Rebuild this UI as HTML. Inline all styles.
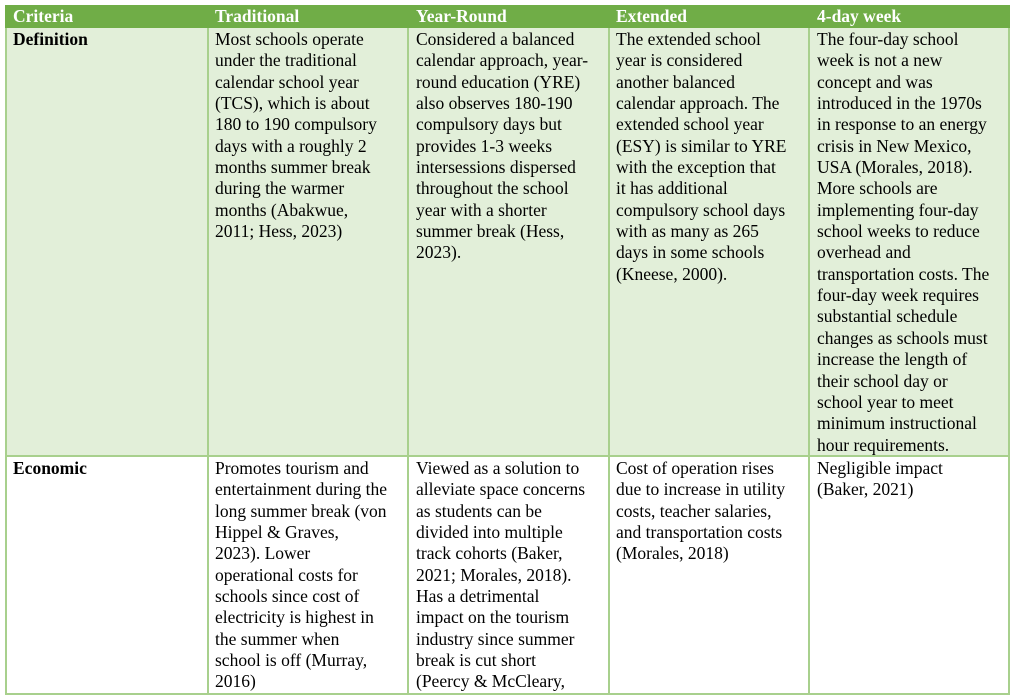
<!DOCTYPE html>
<html><head><meta charset="utf-8"><style>
body{margin:0;width:1013px;height:697px;background:#fff;position:relative;overflow:hidden;font-family:"Liberation Serif","Times New Roman","DejaVu Serif",serif;font-size:17.5px;color:#000}
.bg{position:absolute}
.c{position:absolute;line-height:21.35px;white-space:nowrap;font-family:"Liberation Serif","Times New Roman","DejaVu Serif",serif}
.h{color:#fff;font-weight:bold}
.b{font-weight:bold}
.v{position:absolute;background:#a8d08d;width:2px}
.hz{position:absolute;background:#a8d08d;height:2px}
</style></head><body>
<div class="bg" style="left:5px;top:5px;width:1005px;height:23px;background:#70ad47"></div>
<div class="bg" style="left:5px;top:28px;width:1005px;height:427px;background:#e2efd9"></div>
<div class="v" style="left:5px;top:28px;height:667px"></div>
<div class="v" style="left:207px;top:28px;height:667px"></div>
<div class="v" style="left:407px;top:28px;height:667px"></div>
<div class="v" style="left:608px;top:28px;height:667px"></div>
<div class="v" style="left:808px;top:28px;height:667px"></div>
<div class="v" style="left:1008px;top:28px;height:667px"></div>
<div class="hz" style="left:5px;top:455px;width:1005px"></div>
<div class="hz" style="left:5px;top:693px;width:1005px"></div>

<div class="c h" style="left:13px;top:6px">Criteria</div>
<div class="c h" style="left:215px;top:6px">Traditional</div>
<div class="c h" style="left:416px;top:6px">Year-Round</div>
<div class="c h" style="left:616px;top:6px">Extended</div>
<div class="c h" style="left:817px;top:6px">4-day week</div>

<div class="c b" style="left:13px;top:29px">Definition</div>
<div class="c" style="left:215px;top:29px">Most schools operate<br>under the traditional<br>calendar school year<br>(TCS), which is about<br>180 to 190 compulsory<br>days with a roughly 2<br>months summer break<br>during the warmer<br>months (Abakwue,<br>2011; Hess, 2023)</div>
<div class="c" style="left:416px;top:29px">Considered a balanced<br>calendar approach, year-<br>round education (YRE)<br>also observes 180-190<br>compulsory days but<br>provides 1-3 weeks<br>intersessions dispersed<br>throughout the school<br>year with a shorter<br>summer break (Hess,<br>2023).</div>
<div class="c" style="left:616px;top:29px">The extended school<br>year is considered<br>another balanced<br>calendar approach. The<br>extended school year<br>(ESY) is similar to YRE<br>with the exception that<br>it has additional<br>compulsory school days<br>with as many as 265<br>days in some schools<br>(Kneese, 2000).</div>
<div class="c" style="left:817px;top:29px">The four-day school<br>week is not a new<br>concept and was<br>introduced in the 1970s<br>in response to an energy<br>crisis in New Mexico,<br>USA (Morales, 2018).<br>More schools are<br>implementing four-day<br>school weeks to reduce<br>overhead and<br>transportation costs. The<br>four-day week requires<br>substantial schedule<br>changes as schools must<br>increase the length of<br>their school day or<br>school year to meet<br>minimum instructional<br>hour requirements.</div>

<div class="c b" style="left:13px;top:458px">Economic</div>
<div class="c" style="left:215px;top:458px">Promotes tourism and<br>entertainment during the<br>long summer break (von<br>Hippel &amp; Graves,<br>2023). Lower<br>operational costs for<br>schools since cost of<br>electricity is highest in<br>the summer when<br>school is off (Murray,<br>2016)</div>
<div class="c" style="left:416px;top:458px">Viewed as a solution to<br>alleviate space concerns<br>as students can be<br>divided into multiple<br>track cohorts (Baker,<br>2021; Morales, 2018).<br>Has a detrimental<br>impact on the tourism<br>industry since summer<br>break is cut short<br>(Peercy &amp; McCleary,</div>
<div class="c" style="left:616px;top:458px">Cost of operation rises<br>due to increase in utility<br>costs, teacher salaries,<br>and transportation costs<br>(Morales, 2018)</div>
<div class="c" style="left:817px;top:458px">Negligible impact<br>(Baker, 2021)</div>
</body></html>
